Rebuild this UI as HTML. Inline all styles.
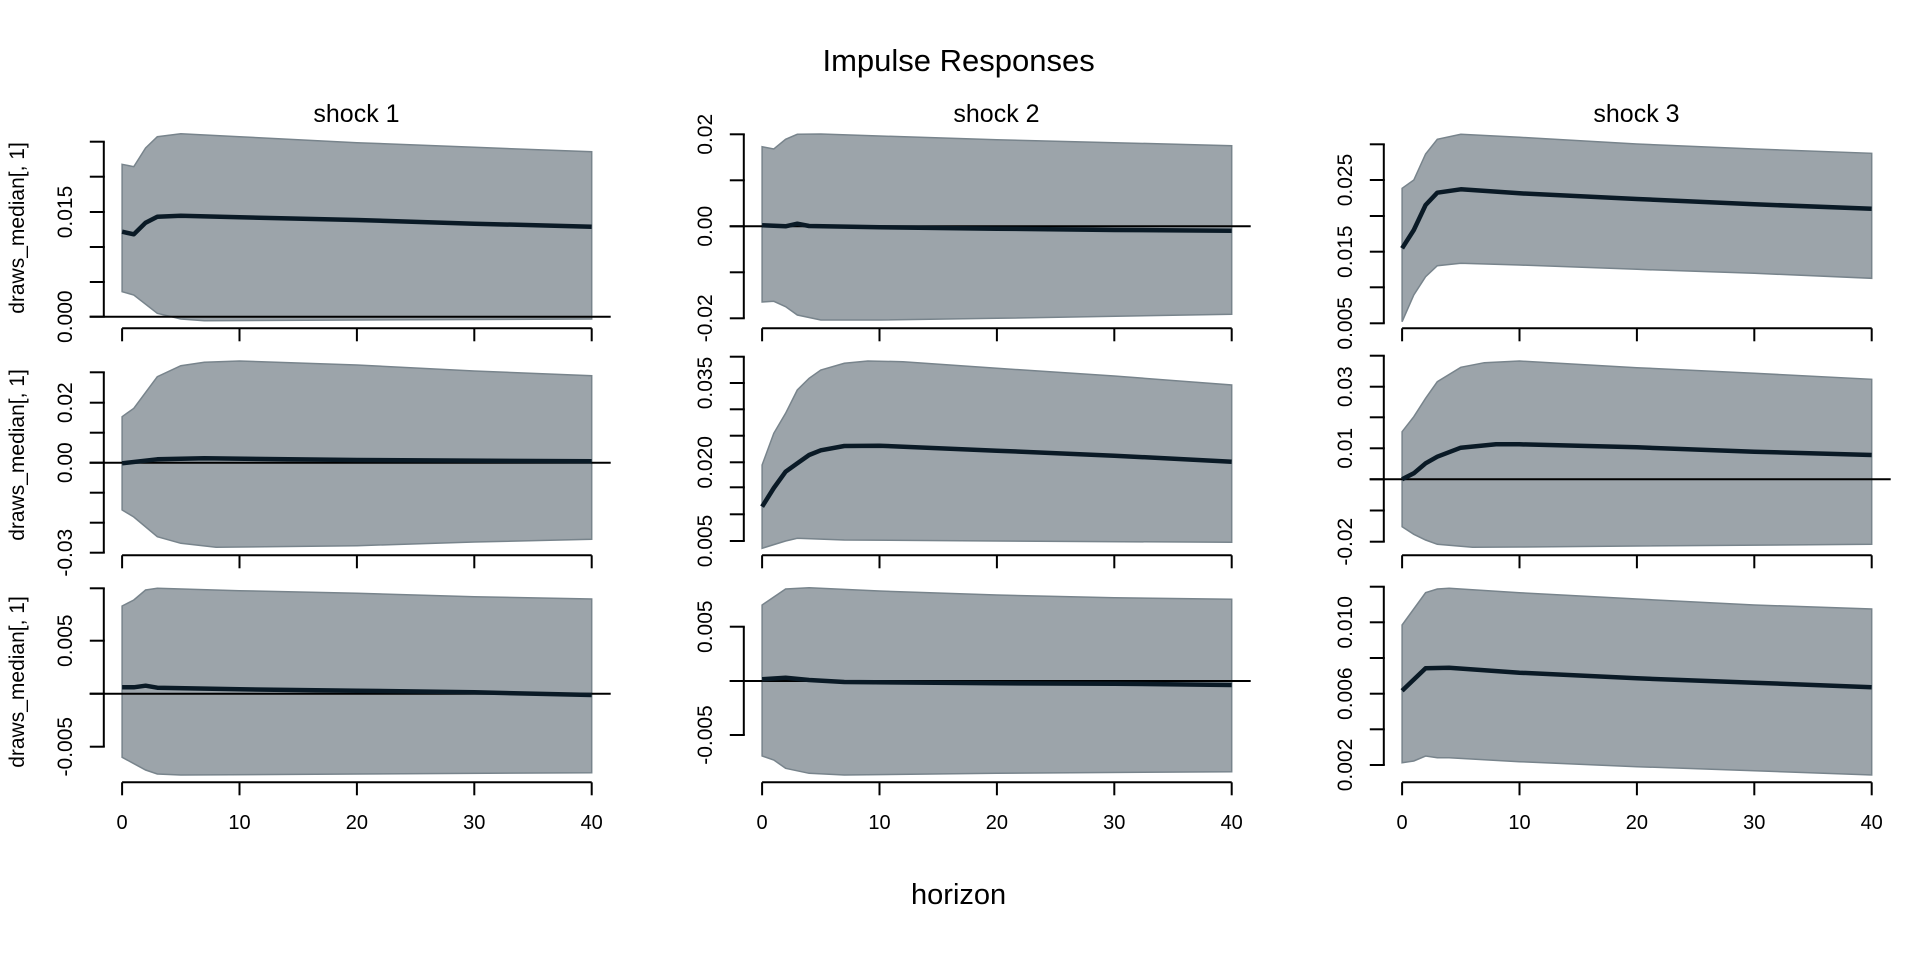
<!DOCTYPE html>
<html><head><meta charset="utf-8"><style>
html,body{margin:0;padding:0;background:#fff;}
svg{display:block;font-family:"Liberation Sans",Arial,sans-serif;}
</style></head><body>
<svg id="s" width="1920" height="960" viewBox="0 0 1920 960" xmlns="http://www.w3.org/2000/svg">
<text x="958.6" y="71" font-size="31" text-anchor="middle">Impulse Responses</text>
<text x="958.6" y="904" font-size="29" text-anchor="middle">horizon</text>
<text x="356.5" y="122" font-size="25" text-anchor="middle">shock 1</text>
<text x="996.5" y="122" font-size="25" text-anchor="middle">shock 2</text>
<text x="1636.5" y="122" font-size="25" text-anchor="middle">shock 3</text>
<text transform="translate(24,228) rotate(-90)" font-size="21" text-anchor="middle">draws_median[, 1]</text>
<text transform="translate(24,455) rotate(-90)" font-size="21" text-anchor="middle">draws_median[, 1]</text>
<text transform="translate(24,682) rotate(-90)" font-size="21" text-anchor="middle">draws_median[, 1]</text>
</svg>
<script>
var S=document.getElementById('s');var NS='http://www.w3.org/2000/svg';
function el(t,a,txt){var e=document.createElementNS(NS,t);for(var k in a)e.setAttribute(k,a[k]);if(txt!=null)e.textContent=txt;S.appendChild(e);return e;}
var P=[
{c:0,r:0,u:[[0,164.3],[1,166.7],[2,148],[3,136.7],[5,133.7],[10,136.7],[20,142.7],[30,147.3],[40,151.7]],
 m:[[0,231.7],[1,234.3],[2,222.7],[3,216.7],[5,215.7],[10,217.3],[20,220],[30,223.7],[40,226.7]],
 l:[[0,291.7],[1,295],[3,313.3],[5,319],[7,320.7],[20,320],[40,319]],
 t:[141.7,176.7,212,247,282,316.7],lb:[[316.7,'0.000'],[212,'0.015']],z:316.7,xa:328.3},
{c:0,r:1,u:[[0,416.7],[1,408.3],[3,376.7],[5,365.7],[7,362.3],[10,361],[20,365],[30,371],[40,375.7]],
 m:[[0,463.3],[3,459.3],[7,458.3],[20,460],[40,461.3]],
 l:[[0,510],[1,517],[3,536.7],[5,543.3],[8,547.3],[20,545.7],[30,542],[40,539.3]],
 t:[372.3,402.7,432.7,462.7,492.7,522.7,552.7],lb:[[402.7,'0.02'],[462.7,'0.00'],[552.7,'-0.03']],z:462.7,xa:555.3},
{c:0,r:2,u:[[0,606],[1,600],[2,590],[3,588.3],[10,590.7],[20,593.3],[30,596.7],[40,599]],
 m:[[0,687.3],[1,687.3],[2,685.7],[3,687.7],[10,689.3],[20,690.7],[30,692.3],[40,695]],
 l:[[0,757.3],[2,770],[3,774],[5,775],[20,774],[40,772.7]],
 t:[588.3,640.7,693.7,746.7],lb:[[640.7,'0.005'],[746.7,'-0.005']],z:693.7,xa:782.3},
{c:1,r:0,u:[[0,146.7],[1,149],[2,139.3],[3,134.3],[5,134],[10,136],[20,139.7],[30,142.7],[40,145.7]],
 m:[[0,225.3],[2,226.3],[3,223.7],[4,226],[10,227.3],[20,228.7],[30,230],[40,230.7]],
 l:[[0,302],[1,301.3],[2,306.7],[3,315],[5,320],[10,320],[20,318.3],[40,314.3]],
 t:[134.3,180.3,226.3,272.3,318.3],lb:[[134.3,'0.02'],[226.3,'0.00'],[318.3,'-0.02']],z:226.3,xa:328.3},
{c:1,r:1,u:[[0,465],[1,433.3],[2,413.3],[3,390],[4,378.3],[5,370],[7,363.3],[9,361],[12,361.7],[20,368.3],[30,376],[40,385]],
 m:[[0,506.7],[1,488],[2,471.7],[3,463.3],[4,455],[5,450.3],[7,446],[10,445.7],[20,450.7],[30,455.7],[40,461.7]],
 l:[[0,548.3],[2,541],[3,538.3],[7,540],[20,541],[40,542.3]],
 t:[356.7,383,409.3,435.7,462.3,487.3,514.3,541],lb:[[383,'0.035'],[462.3,'0.020'],[541,'0.005']],z:null,xa:555.3},
{c:1,r:2,u:[[0,605],[2,589],[4,587.7],[10,591],[20,595],[30,597.7],[40,599.3]],
 m:[[0,679.3],[2,677.7],[4,680],[7,682],[20,683.3],[30,683.7],[40,685]],
 l:[[0,756],[1,760],[2,768.3],[4,773.3],[7,775],[20,773.3],[40,771.7]],
 t:[626.7,735],lb:[[626.7,'0.005'],[735,'-0.005']],z:681,xa:782.3},
{c:2,r:0,u:[[0,188.3],[1,180],[2,154],[3,139.3],[5,134.3],[10,137.3],[20,144],[30,149],[40,153.3]],
 m:[[0,248.3],[1,230],[2,205],[3,192.7],[5,189.3],[10,193.3],[20,199],[30,204.3],[40,208.7]],
 l:[[0,321.7],[1,295],[2,276.7],[3,265.7],[5,263.3],[10,265],[20,269.3],[30,273.3],[40,278.3]],
 t:[144.3,180,216,251.7,287.3,323.3],lb:[[180,'0.025'],[251.7,'0.015'],[323.3,'0.005']],z:null,xa:328.3},
{c:2,r:1,u:[[0,431.7],[1,416.7],[2,398.3],[3,381.7],[5,367.3],[7,362.7],[10,361],[20,367.7],[30,373.3],[40,379.3]],
 m:[[0,479.3],[1,473.3],[2,463.3],[3,456.7],[5,447.7],[8,444.3],[10,444.3],[20,447.3],[30,451.7],[40,455]],
 l:[[0,526.7],[1,534.3],[2,540],[3,544.3],[6,547.3],[10,547],[20,546],[40,544.3]],
 t:[355.7,386.7,417.3,448.3,479.3,510.5,541.7],lb:[[386.7,'0.03'],[448.3,'0.01'],[541.7,'-0.02']],z:479.3,xa:555.3},
{c:2,r:2,u:[[0,625],[2,592.7],[3,589],[4,588.3],[10,592.7],[20,599],[30,605],[40,609]],
 m:[[0,690.7],[2,668.3],[4,667.7],[10,672.7],[20,678.3],[30,682.7],[40,687.3]],
 l:[[0,762.7],[1,761],[2,756],[3,757.7],[4,757.7],[10,761.7],[20,766.7],[30,770.7],[40,775]],
 t:[586.7,622.3,658,693.7,729.3,765],lb:[[622.3,'0.010'],[693.7,'0.006'],[765,'0.002']],z:null,xa:782.3}
];
P.forEach(function(p){
  var o=p.c*640, X=function(h){return (o+122.1+h*11.74).toFixed(1);};
  var pts=function(a){return a.map(function(q){return X(q[0])+','+q[1];});};
  var up=pts(p.u), lo=pts(p.l).reverse();
  el('polygon',{points:up.concat(lo).join(' '),fill:'#9ca4aa',stroke:'#78848c','stroke-width':1.5});
  if(p.z!=null) el('line',{x1:o+89.6,x2:o+610.7,y1:p.z,y2:p.z,stroke:'#000','stroke-width':2});
  el('polyline',{points:pts(p.m).join(' '),fill:'none',stroke:'#0a1a26','stroke-width':4.5,'stroke-linejoin':'round'});
  var ya=o+103.8;
  el('line',{x1:ya,x2:ya,y1:p.t[0],y2:p.t[p.t.length-1],stroke:'#000','stroke-width':2});
  p.t.forEach(function(t){el('line',{x1:ya-14,x2:ya+1,y1:t,y2:t,stroke:'#000','stroke-width':2});});
  p.lb.forEach(function(l){el('text',{transform:'translate('+(o+72)+','+l[0]+') rotate(-90)','font-size':21,'text-anchor':'middle'},l[1]);});
  el('line',{x1:o+122.1,x2:o+591.7,y1:p.xa,y2:p.xa,stroke:'#000','stroke-width':2});
  for(var h=0;h<=40;h+=10){el('line',{x1:X(h),x2:X(h),y1:p.xa,y2:p.xa+13,stroke:'#000','stroke-width':2});
    if(p.r==2) el('text',{x:X(h),y:829,'font-size':20,'text-anchor':'middle'},String(h));}
});
</script>
</body></html>
